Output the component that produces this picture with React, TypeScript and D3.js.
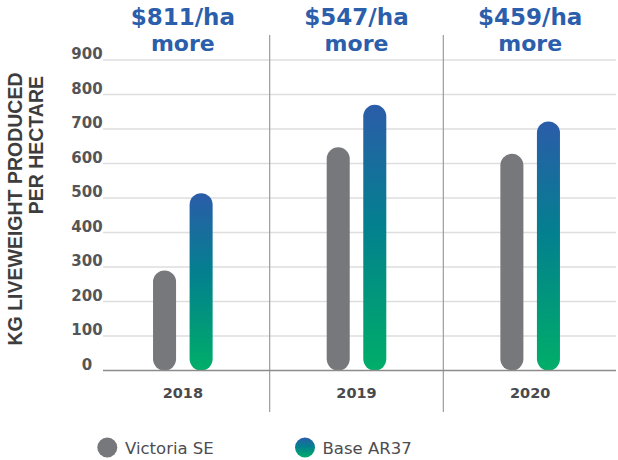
import * as d3 from "d3";

const years = ["2018", "2019", "2020"];
const seriesNames = ["Victoria SE", "Base AR37"];
const victoriaSE = [290, 647, 628];
const baseAR37 = [514, 770, 722];
const premiums = ["$811/ha", "$547/ha", "$459/ha"];
const yTicks = [0, 100, 200, 300, 400, 500, 600, 700, 800, 900];

const W = 618;
const H = 460;

export default function App() {
    const x = d3.scaleBand().domain(years).range([96, 617]).padding(0);
    const inner = d3.scaleBand().domain(seriesNames).range([-29.8, 29.8]).paddingInner(0.37);
    const y = d3.scaleLinear().domain([0, 900]).range([370.5, 60]);

    const bw = inner.bandwidth();
    const gridLeft = 103;
    const gridRight = 616;

    const bars = years.flatMap((yr, i) => [
        { yr, name: seriesNames[0], v: victoriaSE[i] },
        { yr, name: seriesNames[1], v: baseAR37[i] },
    ]);

    return (
        <svg width={W} height={H} style={{ position: "absolute", left: 0, top: 0, background: "#fff" }}>
            <defs>
                <linearGradient id="grad" x1="0" y1="0" x2="0" y2="1">
                    <stop offset="0%" stopColor="#2b5ca9" />
                    <stop offset="45%" stopColor="#03808f" />
                    <stop offset="100%" stopColor="#00ae68" />
                </linearGradient>
            </defs>

            {/* gridlines */}
            {yTicks.filter(t => t > 0).map(t => (
                <line key={t} x1={gridLeft} x2={gridRight} y1={y(t)} y2={y(t)} stroke="#dedede" strokeWidth={1.5} />
            ))}

            {/* year separators */}
            {years.slice(1).map(yr => (
                <line key={yr} x1={x(yr)} x2={x(yr)} y1={35} y2={412} stroke="#9c9c9c" strokeWidth={1.2} />
            ))}

            {/* y tick labels */}
            {yTicks.map(t => (
                <text key={t} x={87} y={y(t) - 1} textAnchor="middle"
                    fontFamily="DejaVu Sans" fontWeight="bold" fontSize={15} fill="#555557">
                    {t}
                </text>
            ))}

            {/* bars */}
            {bars.map(d => {
                const cx = (x(d.yr) as number) + x.bandwidth() / 2 + (inner(d.name) as number);
                return (
                    <rect key={d.yr + d.name} x={cx} y={y(d.v)} width={bw}
                        height={y(0) - y(d.v)} rx={bw / 2} ry={bw / 2}
                        fill={d.name === seriesNames[0] ? "#77787b" : "url(#grad)"} />
                );
            })}

            {/* baseline */}
            <line x1={gridLeft} x2={gridRight} y1={y(0)} y2={y(0)} stroke="#8c8c8c" strokeWidth={1.5} />

            {/* year labels */}
            {years.map(yr => (
                <text key={yr} x={(x(yr) as number) + x.bandwidth() / 2} y={398} textAnchor="middle"
                    fontFamily="DejaVu Sans" fontWeight="bold" fontSize={14.5} fill="#4a4a4c">
                    {yr}
                </text>
            ))}

            {/* premium annotations */}
            {years.map((yr, i) => {
                const cx = (x(yr) as number) + x.bandwidth() / 2;
                return (
                    <g key={yr} fill="#2b5eab" fontFamily="DejaVu Sans" fontWeight="bold" textAnchor="middle">
                        <text x={cx} y={25} fontSize={23}>{premiums[i]}</text>
                        <text x={cx} y={51} fontSize={22}>more</text>
                    </g>
                );
            })}

            {/* y axis title */}
            <g fill="#3d3d3e" fontFamily="Liberation Sans" fontWeight="bold" fontSize={19.5}>
                <text transform="translate(21.5,209) rotate(-90)" textAnchor="middle">KG LIVEWEIGHT PRODUCED</text>
                <text transform="translate(42.5,76) rotate(-90)" textAnchor="end">PER HECTARE</text>
            </g>

            {/* legend */}
            <g fontFamily="DejaVu Sans" fontSize={16.5} fill="#4d4d4f">
                <circle cx={107.3} cy={447.5} r={10} fill="#77787b" />
                <text x={125} y={454}>{seriesNames[0]}</text>
                <circle cx={305} cy={447.5} r={10} fill="url(#grad)" />
                <text x={322.5} y={454}>{seriesNames[1]}</text>
            </g>
        </svg>
    );
}
